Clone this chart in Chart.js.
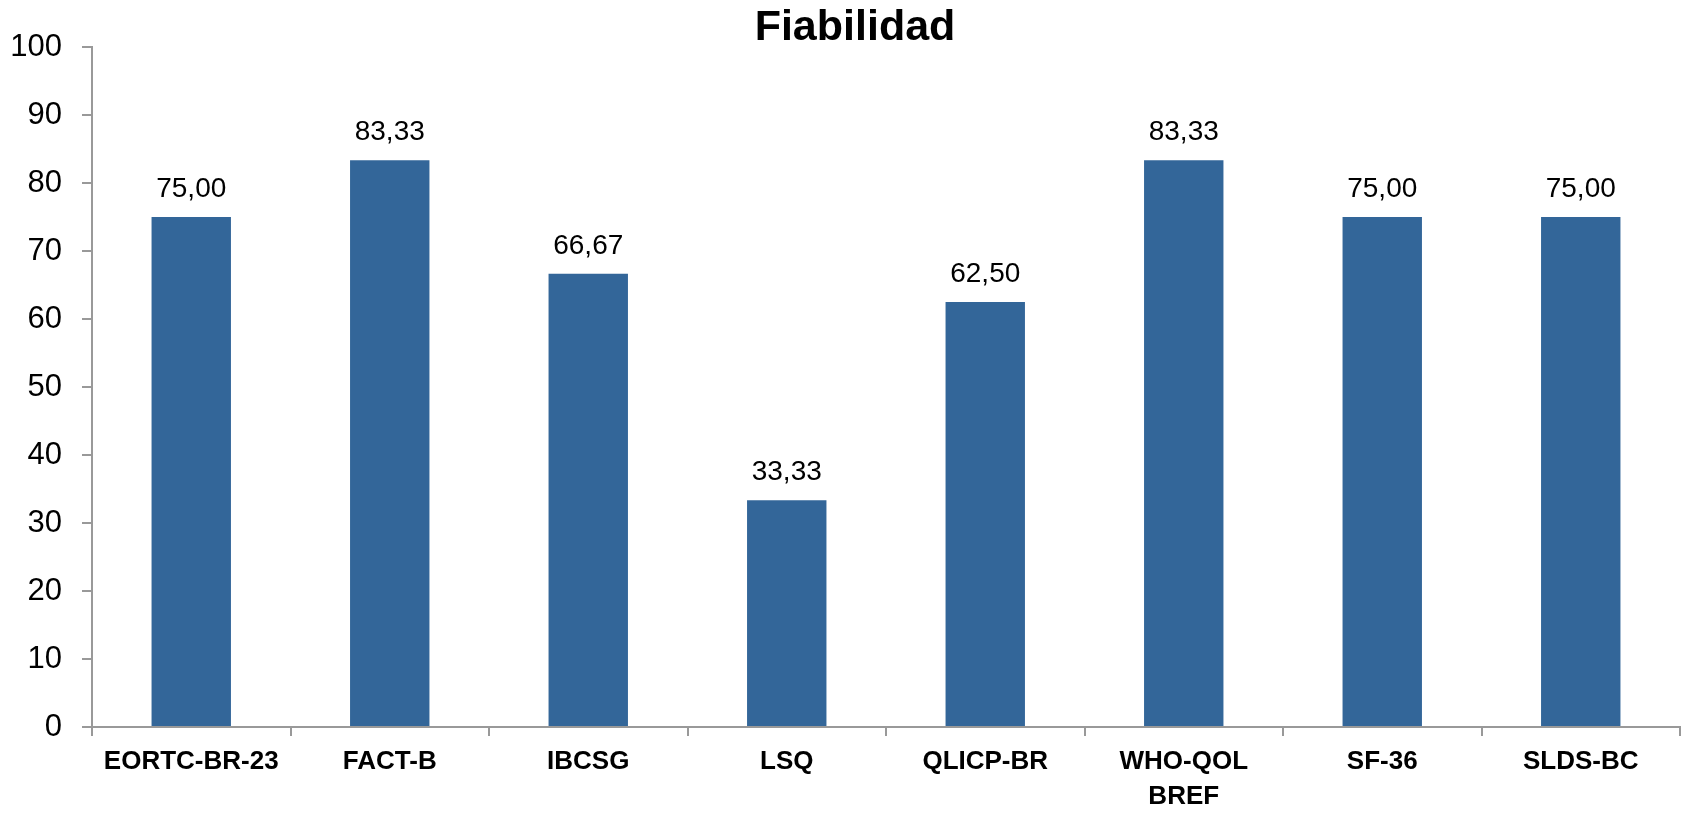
<!DOCTYPE html>
<html>
<head>
<meta charset="utf-8">
<script src="https://cdn.jsdelivr.net/npm/chart.js@4"></script>
<style>
  html, body { margin: 0; padding: 0; background: #fff; }
  #wrap { width: 1686px; height: 813px; }
</style>
</head>
<body>
<div id="wrap"><canvas id="cv" width="1686" height="813"></canvas></div>
<script>
  const categories = ["EORTC-BR-23", "FACT-B", "IBCSG", "LSQ", "QLICP-BR", ["WHO-QOL", "BREF"], "SF-36", "SLDS-BC"];
  const values = [75.00, 83.33, 66.67, 33.33, 62.50, 83.33, 75.00, 75.00];
  const yTicks = [0, 10, 20, 30, 40, 50, 60, 70, 80, 90, 100];
  const titleText = "Fiabilidad";

  const FONT = "'Liberation Sans', Arial, sans-serif";
  const AXIS = "#999999";

  // value labels above the bars (decimal comma) + title, slightly right of centre like the original
  const valueLabels = {
    id: "valueLabels",
    afterDatasetsDraw(chart) {
      const { ctx } = chart;
      const meta = chart.getDatasetMeta(0);
      ctx.save();
      ctx.font = "28px " + FONT;
      ctx.fillStyle = "#000";
      ctx.textAlign = "center";
      ctx.textBaseline = "alphabetic";
      meta.data.forEach((bar, i) => {
        const txt = values[i].toFixed(2).replace(".", ",");
        ctx.fillText(txt, bar.x, bar.y - 20);
      });

      ctx.font = "bold 43px " + FONT;
      ctx.textBaseline = "middle";
      ctx.fillText(titleText, 855, 28);
      ctx.restore();
    }
  };

  new Chart(document.getElementById("cv"), {
    type: "bar",
    data: {
      labels: categories,
      datasets: [{
        data: values,
        backgroundColor: "#336699",
        borderWidth: 0,
        categoryPercentage: 1,
        barPercentage: 0.4
      }]
    },
    options: {
      responsive: false,
      animation: false,
      layout: { padding: { left: 0, right: 6, top: 47, bottom: 0 } },
      plugins: {
        legend: { display: false },
        tooltip: { enabled: false },
        title: { display: false }
      },
      scales: {
        x: {
          afterFit(axis) { axis.height = 86; },
          grid: { display: true, drawOnChartArea: false, drawTicks: true, tickLength: 9, color: AXIS, lineWidth: 2, offset: true },
          border: { display: true, color: AXIS, width: 2 },
          ticks: {
            color: "#000",
            font: { family: FONT, size: 26, weight: "bold", lineHeight: 1.35 },
            padding: 8,
            maxRotation: 0,
            autoSkip: false
          }
        },
        y: {
          min: 0,
          max: 100,
          afterFit(axis) { axis.width = 92; },
          afterBuildTicks(axis) { axis.ticks = yTicks.map(v => ({ value: v })); },
          grid: { display: true, drawOnChartArea: false, drawTicks: true, tickLength: 10, color: AXIS, lineWidth: 2 },
          border: { display: true, color: AXIS, width: 2 },
          ticks: {
            color: "#000",
            font: { family: FONT, size: 31 },
            padding: 20
          }
        }
      }
    },
    plugins: [valueLabels]
  });
</script>
</body>
</html>
